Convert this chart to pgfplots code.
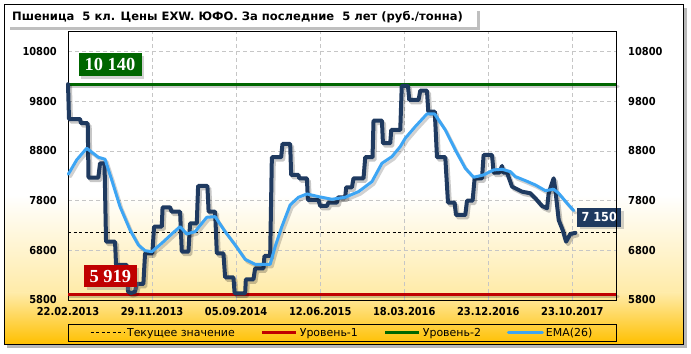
\documentclass[border=0pt]{standalone}
\usepackage{pgfplots}
\pgfplotsset{compat=1.18}
\usepackage{pgfplotstable}
\usepackage{fontspec}
\setmainfont{DejaVu Sans}
\newfontfamily\condfont{DejaVu Sans Condensed}
\newfontfamily\serifb{Liberation Serif}
\usetikzlibrary{shadows}

\definecolor{navy}{HTML}{1F3A60}
\definecolor{emablue}{HTML}{3DA5F4}
\definecolor{lvlgreen}{HTML}{006600}
\definecolor{lvlred}{HTML}{C00000}
\definecolor{gold}{HTML}{FFC000}
\definecolor{cream}{HTML}{FFEBA8}

\pgfplotstableread{
w v
0 10140
0.48 9440
5.71 9440
6.19 9355
9.38 9355
9.76 8261
14.43 8261
15.24 8550
17.38 8550
18.10 6973
22.38 6973
22.86 6504
27.95 6504
28.57 5968
30.0 5940
31.9 5968
32.71 6122
35.86 6122
36.67 6740
40.14 6740
40.95 7275
44.62 7275
45.0 7665
48.57 7665
49.29 7577
53.33 7577
54.14 6772
57.29 6772
58.1 7343
61.29 7343
61.9 8094
66.33 8094
66.9 7577
70.0 7577
70.81 6740
73.95 6740
74.76 6257
78.71 6257
79.29 5935
84.29 5935
84.62 6216
88.24 6216
89.05 6437
93.0 6437
93.48 6685
96.19 6685
97.0 8671
101.43 8671
102.05 8939
105.71 8939
106.19 8315
109.67 8315
110.0 8248
113.67 8248
114.14 7812
119.19 7812
120.0 7691
123.19 7691
123.95 7758
127.95 7758
128.57 7866
131.9 7866
132.38 8067
135.1 8067
135.86 8248
140.62 8248
141.43 8671
144.9 8671
145.38 9408
149.38 9408
149.86 8953
153.33 8953
153.81 9220
158.1 9220
158.81 10105
161.76 10105
162.38 9824
166.81 9824
167.62 10011
170.81 10011
171.43 9589
174.52 9589
175.57 8671
179.52 8671
180.81 7758
183.95 7758
184.62 7510
189.05 7510
189.86 7798
192.52 7798
193.48 8248
197.0 8248
197.76 8717
201.76 8717
202.52 8361
205.24 8361
206.52 8496
207.14 8361
208.9 8361
211.29 8080
216.05 7979
220.0 7946
222.38 7846
225.57 7691
227.95 7645
228.71 7946
231.1 8248
231.9 8013
233.48 7410
235.38 7208
237.0 6973
239.05 7128
241.43 7150
}\price

\pgfplotstableread{
w v
0.14 8329
4.14 8617
8.9 8852
14.43 8671
17.62 8631
20.81 8214
24.76 7677
29.52 7208
33.48 6907
36.67 6792
39.86 6772
44.62 6941
49.38 7128
53.33 7275
56.52 7128
60.48 7175
66.05 7464
70.0 7476
74.76 7175
79.52 6907
84.29 6619
89.05 6518
96.19 6518
98.57 6872
101.76 7275
105.71 7711
109.67 7866
113.67 7933
119.19 7879
125.57 7826
131.9 7866
138.24 7979
144.62 8180
149.38 8550
154.14 8684
158.1 8885
160.48 9053
165.24 9287
170.81 9542
174.43 9542
179.52 9220
184.29 8818
189.05 8450
193.0 8269
197.76 8315
202.52 8416
206.52 8430
210.48 8381
212.86 8282
217.62 8201
222.38 8114
227.14 7999
231.1 8027
233.48 7946
237.48 7745
240.62 7597
}\ema

\begin{document}
\begin{tikzpicture}[x=1bp,y=1bp]
\useasboundingbox (0,0) rectangle (691,353);
% frame shadow and background
\fill[black!28] (7,5) rectangle (687,345);
\fill[white] (4,9) rectangle (683,348);
\shade[top color=white, bottom color=cream] (4,60) rectangle (683,158);
\shade[top color=cream, bottom color=gold] (4,9) rectangle (683,60.2);
\draw[black, line width=1bp] (4,9) rectangle (683,348);
% title box
\fill[black!25] (10,323) rectangle (480,342);
\fill[white] (8,326) rectangle (477,345);
\node[anchor=west, inner sep=0pt, font=\bfseries\fontsize{11.6}{13}\selectfont] at (12,335.5)
  {Пшеница~~5 кл. Цены EXW. ЮФО. За последние~~5 лет (руб./тонна)};

\begin{axis}[
  at={(68bp,53bp)}, anchor=south west,
  scale only axis, width=548.5bp, height=268.5bp,
  xmin=0, xmax=261, ymin=5800, ymax=11200,
  scaled x ticks=false, scaled y ticks=false,
  clip=false,
  axis line style={black, line width=0.9bp},
  major tick length=0pt,
  xtick={0,40,80,120,160,200,240},
  xticklabels={22.02.2013,29.11.2013,05.09.2014,12.06.2015,18.03.2016,23.12.2016,23.10.2017},
  ytick={5800,6800,7800,8800,9800,10800},
  yticklabels={5800,6800,7800,8800,9800,10800},
  grid=major,
  grid style={gray!45, line width=0.6bp, dash pattern=on 4bp off 3bp},
  tick label style={font=\condfont\bfseries\fontsize{11}{12}\selectfont},
  yticklabel style={anchor=east, inner xsep=0pt, xshift=-11bp},
  xticklabel style={anchor=north, inner ysep=0pt, yshift=-7bp},
  legend columns=4,
  legend style={at={(0.5,-0.122)}, anchor=center, draw=black, line width=0.9bp, fill=none,
    font=\fontsize{11}{13}\selectfont, inner xsep=22bp, inner ysep=1.5bp,
    /tikz/every even column/.append style={column sep=24bp}},
  legend image code/.code={\draw[#1] (0bp,0bp) -- (34bp,0bp);},
  every axis plot/.append style={line join=round, line cap=round},
]
\addplot[black, line width=0.9bp, dash pattern=on 3bp off 2.5bp, line cap=butt] coordinates {(0,7150) (261,7150)};
\addlegendentry{Текущее значение}
\addplot[forget plot, black, opacity=0.2, line width=3bp, xshift=1.5bp, yshift=-2bp] coordinates {(0,5919) (261,5919)};
\addplot[lvlred, line width=3bp, line cap=butt] coordinates {(0,5919) (261,5919)};
\addlegendentry{Уровень-1}
\addplot[forget plot, black, opacity=0.2, line width=3bp, xshift=1.5bp, yshift=-2bp] coordinates {(0,10140) (261,10140)};
\addplot[lvlgreen, line width=3bp, line cap=butt] coordinates {(0,10140) (261,10140)};
\addlegendentry{Уровень-2}
\addplot[forget plot, black, opacity=0.22, line width=4bp, xshift=2bp, yshift=-2.5bp] table[x=w,y=v] {\price};
\addplot[forget plot, navy, line width=4bp] table[x=w,y=v] {\price};
\addplot[forget plot, black, opacity=0.18, line width=3bp, xshift=2bp, yshift=-2.5bp] table[x=w,y=v] {\ema};
\addplot[emablue, line width=3bp] table[x=w,y=v] {\ema};
\addlegendentry{EMA(26)}
\node[fill=lvlgreen, text=white, font=\serifb\bfseries\fontsize{18.5}{20}\selectfont, inner sep=0pt,
  minimum width=63bp, minimum height=22.7bp, drop shadow={opacity=0.35}] at (axis cs:20,10530) {10 140};
\node[fill=lvlred, text=white, font=\serifb\bfseries\fontsize{18.5}{20}\selectfont, inner sep=0pt,
  minimum width=52.7bp, minimum height=22.3bp, drop shadow={opacity=0.35}] at (axis cs:20.1,6283) {5 919};
\node[fill=navy, text=white, font=\condfont\bfseries\fontsize{12.5}{14}\selectfont, inner sep=0pt,
  minimum width=44.3bp, minimum height=18.4bp, drop shadow={opacity=0.35}] at (axis cs:252.8,7460) {7 150};
\end{axis}
\begin{axis}[
  at={(68bp,53bp)}, anchor=south west,
  scale only axis, width=548.5bp, height=268.5bp,
  xmin=0, xmax=261, ymin=5800, ymax=11200,
  scaled x ticks=false, scaled y ticks=false,
  axis x line=none, axis y line*=right,
  axis line style={black, line width=0.9bp},
  major tick length=0pt,
  ytick={5800,6800,7800,8800,9800,10800},
  yticklabels={5800,6800,7800,8800,9800,10800},
  tick label style={font=\condfont\bfseries\fontsize{11}{12}\selectfont},
  yticklabel style={anchor=west, inner xsep=0pt, xshift=11.5bp},
]
\end{axis}
\end{tikzpicture}
\end{document}
